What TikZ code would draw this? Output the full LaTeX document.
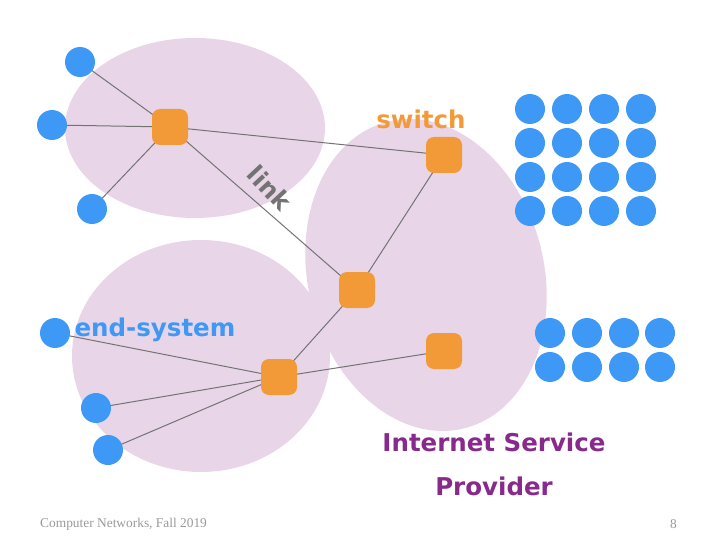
\documentclass[tikz,border=0pt]{standalone}
\usepackage{fontspec}
\setmainfont{Liberation Serif}
\newfontfamily\comic{DejaVu Sans}
\definecolor{cloud}{RGB}{232,214,232}
\definecolor{sworange}{RGB}{242,153,56}
\definecolor{hostblue}{RGB}{62,152,246}
\definecolor{isppurple}{RGB}{135,42,140}
\definecolor{linkgray}{RGB}{115,115,115}
\pgfdeclarelayer{clouds}
\pgfdeclarelayer{wires}
\pgfsetlayers{clouds,wires,main}
\tikzset{
  switchbox/.style={draw=none, fill=sworange, rounded corners=8pt, minimum width=36pt, minimum height=36pt, inner sep=0pt},
  host/.style={circle, fill=hostblue, minimum size=30pt, inner sep=0pt},
  wire/.style={draw=linkgray, line width=1pt},
  lbl/.style={font=\comic\bfseries\fontsize{24.5}{28}\selectfont, inner sep=0pt}
}
\begin{document}
\begin{tikzpicture}[x=1pt,y=1pt]
\useasboundingbox (0,0) rectangle (718,550);
% clouds (y = 550 - pixel y)
\begin{pgfonlayer}{clouds}
\fill[cloud] (195,422) ellipse [x radius=130, y radius=90];
\fill[cloud] (201,194) ellipse [x radius=129, y radius=116];
\fill[cloud, rotate around={14:(426,275)}] (426,275) ellipse [x radius=118, y radius=158];
\end{pgfonlayer}
% switches
\node[switchbox] (s1) at (170,423) {};
\node[switchbox] (s2) at (444,395) {};
\node[switchbox] (s3) at (357,260) {};
\node[switchbox] (s4) at (279,173) {};
\node[switchbox] (s5) at (444,199) {};
% end systems
\node[host] (a1) at (80,488) {};
\node[host] (a2) at (52,425) {};
\node[host] (a3) at (92,341) {};
\node[host] (b1) at (55,217) {};
\node[host] (b2) at (96,142) {};
\node[host] (b3) at (108,100) {};
% links
\begin{pgfonlayer}{wires}
\path[wire] (s1.center) -- (a1.center);
\path[wire] (s1.center) -- (a2.center);
\path[wire] (s1.center) -- (a3.center);
\path[wire] (s1.center) -- (s2.center);
\path[wire] (s1.center) -- (s3.center);
\path[wire] (s2.center) -- (s3.center);
\path[wire] (s3.center) -- (s4.center);
\path[wire] (s4.center) -- (s5.center);
\path[wire] (s4.center) -- (b1.center);
\path[wire] (s4.center) -- (b2.center);
\path[wire] (s4.center) -- (b3.center);
\end{pgfonlayer}
% host grids
\foreach \r [count=\i] in {441,407,373,339}
  \foreach \c [count=\j] in {530,567,604,641}
    \node[host] (g\i\j) at (\c,\r) {};
\foreach \r [count=\i] in {217,183}
  \foreach \c [count=\j] in {550,587,624,660}
    \node[host] (h\i\j) at (\c,\r) {};
% labels
\node[lbl, text=sworange] (swl) at (421,431) {switch};
\node[lbl, text=linkgray, rotate=-47] (lkl) at (270,362) {link};
\node[lbl, text=hostblue] (esl) at (155,220) {end-system};
\node[lbl, text=isppurple] (isp1) at (494,108) {Internet Service};
\node[lbl, text=isppurple] (isp2) at (494,64) {Provider};
% footer
\node[font=\fontsize{13.4}{15}\selectfont, text=black!40, anchor=west, inner sep=0pt] (foot) at (40,26) {Computer Networks, Fall 2019};
\node[font=\fontsize{13.4}{15}\selectfont, text=black!40, anchor=east, inner sep=0pt] (pg) at (677,26) {8};
\end{tikzpicture}
\end{document}
